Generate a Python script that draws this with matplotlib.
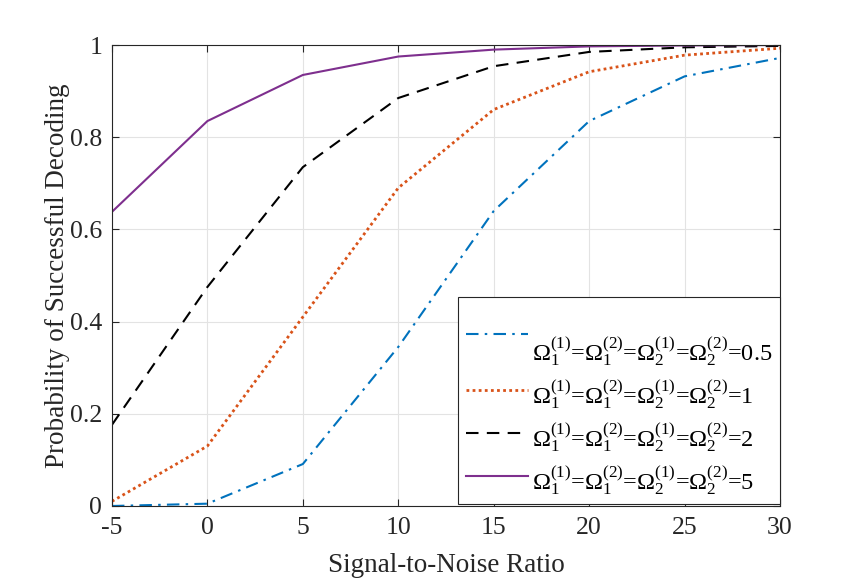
import matplotlib
matplotlib.use("Agg")
import matplotlib.pyplot as plt
import numpy as np
from matplotlib.legend_handler import HandlerLine2D

plt.rcParams['font.family'] = ['Liberation Serif', 'DejaVu Serif']
plt.rcParams['mathtext.fontset'] = 'custom'
plt.rcParams['mathtext.rm'] = 'Liberation Serif'
plt.rcParams['mathtext.it'] = 'Liberation Serif:italic'
plt.rcParams['mathtext.bf'] = 'Liberation Serif:bold'

snr = [-5, 0, 5, 10, 15, 20, 25, 30]
p_05 = [0.0, 0.005, 0.091, 0.345, 0.640, 0.835, 0.932, 0.972]
p_1 = [0.010, 0.130, 0.410, 0.690, 0.860, 0.942, 0.978, 0.993]
p_2 = [0.176, 0.475, 0.735, 0.885, 0.954, 0.985, 0.995, 0.998]
p_5 = [0.638, 0.835, 0.935, 0.975, 0.990, 0.997, 0.999, 1.0]
omega_vals = ['0.5', '1', '2', '5']
xticks = [-5, 0, 5, 10, 15, 20, 25, 30]
yticks = [0, 0.2, 0.4, 0.6, 0.8, 1]
ytick_labels = ['0', '0.2', '0.4', '0.6', '0.8', '1']

def lab(v):
    return (r'$\Omega_1^{(1)}$=$\Omega_1^{(2)}$=$\Omega_2^{(1)}$=$\Omega_2^{(2)}$=' + v)


class UpHandler(HandlerLine2D):
    def __init__(self, shift, **kw):
        super().__init__(**kw)
        self.shift = shift

    def create_artists(self, legend, orig_handle, xdescent, ydescent, width,
                       height, fontsize, trans):
        arts = super().create_artists(legend, orig_handle, xdescent, ydescent,
                                      width, height, fontsize, trans)
        for a in arts:
            a.set_ydata(np.asarray(a.get_ydata(), dtype=float) + self.shift)
        return arts


fig = plt.figure(figsize=(8.61, 5.80), dpi=100)
ax = fig.add_axes([0.130, 0.1276, 0.776, 0.7948])

l1, = ax.plot(snr, p_05, color='#0072BD', lw=1.5, linestyle=(0, (6, 3, 1.2, 3)), label=lab(omega_vals[0]))
l2, = ax.plot(snr, p_1, color='#D95319', lw=2.0, linestyle=(0, (1, 1.2)), label=lab(omega_vals[1]))
l3, = ax.plot(snr, p_2, color='black', lw=1.5, linestyle=(0, (6, 4)), label=lab(omega_vals[2]))
l4, = ax.plot(snr, p_5, color='#7E2F8E', lw=1.5, linestyle='-', label=lab(omega_vals[3]))

ax.set_xlim(-5, 30)
ax.set_ylim(0, 1)
ax.set_xticks(xticks)
ax.set_xticklabels([str(x) for x in xticks])
ax.set_yticks(yticks)
ax.set_yticklabels(ytick_labels)
ax.tick_params(direction='in', length=5, width=0.8, labelsize=18.5, colors='#262626',
               top=True, right=True)
ax.tick_params(axis='x', pad=8)
ax.tick_params(axis='y', pad=7)
ax.grid(True, color='#e3e3e3', linewidth=0.8)
ax.set_axisbelow(True)
for s in ax.spines.values():
    s.set_color('#262626')
    s.set_linewidth(0.8)

ax.set_xlabel('Signal-to-Noise Ratio', fontsize=19.5, color='#262626', labelpad=10)
ax.set_ylabel('Probability of Successful Decoding', fontsize=19.5, color='#262626', labelpad=0)

hm = {l1: UpHandler(13), l2: UpHandler(3.3), l3: UpHandler(3.3), l4: UpHandler(3.3)}
leg = ax.legend(loc='lower right', bbox_to_anchor=(1.0, 0.004), fontsize=17.5,
                frameon=True, fancybox=False, edgecolor='#262626', framealpha=1,
                handlelength=2.55, handletextpad=0.2, labelspacing=0.41,
                borderpad=0.3, borderaxespad=0.0, handler_map=hm,
                title=' ', title_fontsize=17)
leg.get_frame().set_linewidth(0.8)

fig.savefig('out.png', dpi=100)
